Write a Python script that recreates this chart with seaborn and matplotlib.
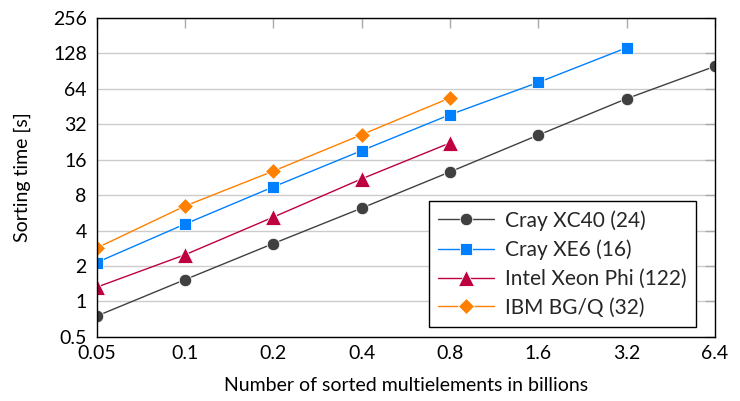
import numpy as np
import pandas as pd
import matplotlib
matplotlib.use("Agg")
import matplotlib.pyplot as plt
import seaborn as sns
from matplotlib.ticker import FixedLocator, FixedFormatter, NullLocator

sizes = [0.05, 0.1, 0.2, 0.4, 0.8, 1.6, 3.2, 6.4]
size_labels = ["0.05", "0.1", "0.2", "0.4", "0.8", "1.6", "3.2", "6.4"]
y_ticks = [0.5, 1, 2, 4, 8, 16, 32, 64, 128, 256]
y_labels = ["0.5", "1", "2", "4", "8", "16", "32", "64", "128", "256"]

series_names = ["Cray XC40 (24)", "Cray XE6 (16)", "Intel Xeon Phi (122)", "IBM BG/Q (32)"]
xc40 = [0.75, 1.53, 3.1, 6.2, 12.6, 25.9, 52.8, 99.5]
xe6 = [2.14, 4.54, 9.4, 19.1, 38.6, 72.6, 143]
phi = [1.32, 2.49, 5.2, 11.0, 22.2]
bgq = [2.84, 6.46, 12.8, 26.1, 53.6]

colors = ["#404040", "#0080ff", "#bf0040", "#ff8000"]
markers = ["o", "s", "^", "D"]

rows = []
for name, vals in zip(series_names, [xc40, xe6, phi, bgq]):
    for x, v in zip(sizes, vals):
        rows.append({"size": x, "time": v, "machine": name})
df = pd.DataFrame(rows)

sns.set_theme(style="white")
plt.rcParams["font.family"] = ["Lato", "DejaVu Sans"]

fig = plt.figure(figsize=(7.4, 4.01), dpi=100)
ax = fig.add_axes([0.1305, 0.160, 0.8355, 0.795])

sns.lineplot(data=df, x="size", y="time", hue="machine", style="machine",
             hue_order=series_names, style_order=series_names,
             palette=dict(zip(series_names, colors)),
             markers=dict(zip(series_names, markers)), dashes=False,
             markersize=9, markeredgewidth=0.6, linewidth=1.0, ax=ax, legend=True)

ax.set_xscale("log", base=2)
ax.set_yscale("log", base=2)
ax.set_xlim(0.05, 6.4)
ax.set_ylim(0.5, 256)
ax.xaxis.set_major_locator(FixedLocator(sizes))
ax.xaxis.set_major_formatter(FixedFormatter(size_labels))
ax.xaxis.set_minor_locator(NullLocator())
ax.yaxis.set_major_locator(FixedLocator(y_ticks))
ax.yaxis.set_major_formatter(FixedFormatter(y_labels))
ax.yaxis.set_minor_locator(NullLocator())

ax.grid(True, axis="y", color="#cccccc", linewidth=1.0)
ax.set_axisbelow(True)
for s in ax.spines.values():
    s.set_color("black")
    s.set_linewidth(1.0)
ax.tick_params(axis="both", which="major", direction="in", length=7, width=1.0,
               color="#aaaaaa", top=True, right=True, labelsize=14, pad=7,
               labelcolor="black")
ax.tick_params(axis="x", pad=6)

ax.set_xlabel("Number of sorted multielements in billions", fontsize=14, labelpad=11, color="black")
ax.set_ylabel("Sorting time [s]", fontsize=14, labelpad=16, color="black")

handles, labels = ax.get_legend_handles_labels()
for ln in list(ax.lines) + list(handles):
    try:
        m = ln.get_marker()
    except Exception:
        continue
    if m == "^":
        ln.set_markersize(11)
    elif m == "D":
        ln.set_markersize(8.5)

leg = ax.legend(handles, labels, loc="lower right", bbox_to_anchor=(0.969, 0.031),
                borderaxespad=0, fontsize=15, frameon=True, fancybox=False, framealpha=1,
                edgecolor="black", borderpad=0.45, labelspacing=0.42,
                handlelength=2.7, handletextpad=0.5)
leg.get_frame().set_linewidth(1.0)

fig.savefig("out.png", dpi=100)
